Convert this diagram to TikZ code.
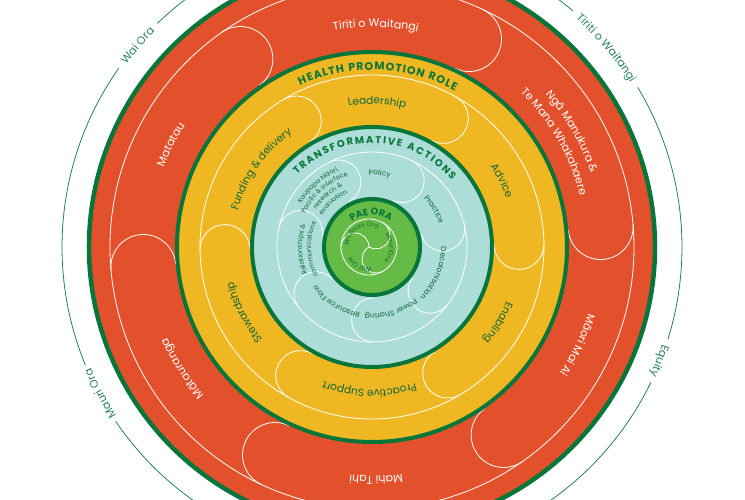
\documentclass[tikz,border=0pt]{standalone}
\usepackage{fontspec}
\setmainfont{Poppins}
\usetikzlibrary{decorations.text}
\definecolor{hpred}{RGB}{226, 81, 44}
\definecolor{hpyellow}{RGB}{239, 184, 34}
\definecolor{hpteal}{RGB}{172, 221, 216}
\definecolor{hplime}{RGB}{102, 187, 70}
\definecolor{hpgreen}{RGB}{8, 118, 58}
\definecolor{hptext}{RGB}{14, 102, 56}
\definecolor{hpguide}{RGB}{40, 128, 92}
\tikzset{
    disc/.style = {draw=hpgreen, line width=4pt},
    lane/.style = {draw=white, line width=0.8pt},
    guide/.style = {draw=hpguide, line width=0.8pt}
}
% text on a clockwise arc: [align]{radius}{centre angle}{half span}{text}
\newcommand{\arclabel}[5][center]{%
  \path[decorate, decoration={text along path, text align={#1}, text={#5}}]
    ({#3+#4}:#2) arc[start angle={#3+#4}, end angle={#3-#4}, radius=#2];}
\newcommand{\guidefont}{\color{hpguide}\fontsize{11}{13}\selectfont}
\newcommand{\redfont}{\color{white}\fontsize{11}{13}\selectfont}
\newcommand{\yelfont}{\color{hptext}\fontsize{10.5}{12}\selectfont}
\newcommand{\tealfont}{\color{hptext}\fontsize{7.5}{9}\selectfont}
\newcommand{\smallfont}{\color{hptext}\fontsize{6.5}{8}\selectfont}
\newcommand{\tinyfont}{\color{hptext}\fontsize{6.3}{7}\selectfont}
\newcommand{\headfont}{\color{hpgreen}\bfseries\fontsize{11}{13}\selectfont}
\newcommand{\subheadfont}{\color{hpgreen}\bfseries\fontsize{10}{12}\selectfont}
\newcommand{\paefont}{\color{hpgreen}\bfseries\fontsize{9.5}{11}\selectfont}

\begin{document}
\begin{tikzpicture}[x=1pt, y=1pt]
  \useasboundingbox (-372,-253) rectangle (373,247);
  \clip (-372,-253) rectangle (373,247);
  \coordinate (c) at (0,0);
  \coordinate (po) at (-3,0);

  % outer guide circle, broken at the labels
  \foreach \a/\b in {49.6/133.8, 144.8/202.4, 214.2/334.1, 342.7/391}
    \draw[guide] (\a:310) arc[start angle=\a, end angle=\b, radius=310];

  % red ring
  \draw[disc, line width=4.5pt, fill=hpred] (c) circle[radius=283];
  \draw[lane] (c) circle[radius=262];
  \foreach \p in {125,65,5,-55,-115,-175}
    \draw[lane] ([shift={(\p:229.5)}] \p:32.5) arc[start angle=\p, end angle=\p-180, radius=32.5];

  % yellow ring
  \draw[disc, fill=hpyellow] (c) circle[radius=195];
  \draw[lane] (c) circle[radius=172];
  \foreach \p in {121,61,1,-59,-119,-179}
    \draw[lane] ([shift={(\p:147)}] \p:25) arc[start angle=\p, end angle=\p-180, radius=25];

  % teal ring
  \draw[disc, fill=hpteal] (c) circle[radius=120];
  \draw[lane] (c) circle[radius=95];
  \foreach \k in {0,...,6}{
    \pgfmathsetmacro{\p}{117-51.43*\k}
    \draw[lane] ([shift={(\p:73)}] \p:22) arc[start angle=\p, end angle=\p-180, radius=22];
  }

  % pae ora
  \draw[disc, fill=hplime] (c) circle[radius=48];
  \draw[lane] (po) circle[radius=28];
  \foreach \t in {60,-60,180}
    \draw[lane] (po) arc[start angle=\t+180, end angle=\t+360, radius=14];

  % outer labels
  \arclabel{306}{40.3}{20}{|\guidefont|Tiriti o Waitangi}
  \arclabel{306}{139.3}{20}{|\guidefont|Wai Ora}
  \arclabel{306}{208.3}{20}{|\guidefont|Mauri Ora}
  \arclabel{306}{-21.6}{20}{|\guidefont|Equity}

  % red ring labels
  \arclabel{220}{89}{30}{|\redfont|Tiriti o Waitangi}
  \arclabel{231}{30}{30}{|\redfont|Ngā Manukura {\&}}
  \arclabel{214}{30}{30}{|\redfont|Te Mana Whakahaere}
  \arclabel{226}{-25.5}{30}{|\redfont|Māori Mai Ai}
  \arclabel{229}{-89}{30}{|\redfont|Mahi Tahi}
  \arclabel{224}{212.6}{30}{|\redfont|Mātauranga}
  \arclabel{223}{153}{30}{|\redfont|Matatau}

  % yellow ring labels
  \arclabel[fit to path]{177}{88}{26}{|\headfont|HEALTH PROMOTION ROLE}
  \arclabel{143}{88}{35}{|\yelfont|Leadership}
  \arclabel{143}{27}{35}{|\yelfont|Advice}
  \arclabel{145}{-31}{35}{|\yelfont|Enabling}
  \arclabel{143}{-91}{35}{|\yelfont|Proactive Support}
  \arclabel{143}{207}{35}{|\yelfont|Stewardship}
  \arclabel{139}{145}{35}{|\yelfont|Funding {\&} delivery}

  % teal ring labels
  \arclabel[fit to path]{104}{88}{48}{|\subheadfont|TRANSFORMATIVE ACTIONS}
  \arclabel{72}{84}{40}{|\tealfont|Policy}
  \arclabel{71}{31}{40}{|\tealfont|Practice}
  \arclabel{69}{-23}{40}{|\tealfont|Decolonisation}
  \arclabel{67}{-73}{40}{|\tealfont|Power Sharing}
  \arclabel{67}{237}{40}{|\tealfont|Resource Flow}
  \arclabel{70}{182}{40}{|\smallfont|Relationships {\&}}
  \arclabel{61}{182}{40}{|\smallfont|communications}
  \arclabel{83}{131}{35}{|\smallfont|Kaupapa Māori,}
  \arclabel{75}{131}{35}{|\smallfont|Pacific {\&} interface}
  \arclabel{67}{131}{35}{|\smallfont|research {\&}}
  \arclabel{59}{131}{35}{|\smallfont|evaluation}

  % pae ora labels
  \arclabel{32}{92}{45}{|\paefont|PAE ORA}
  \begin{scope}[shift={(po)}]
    \arclabel{20.5}{120}{80}{|\tinyfont|Whānau Ora}
    \arclabel{20.5}{-2}{80}{|\tinyfont|MauriOra}
    \arclabel{20.5}{243}{80}{|\tinyfont|Wai Ora}
  \end{scope}
\end{tikzpicture}
\end{document}
